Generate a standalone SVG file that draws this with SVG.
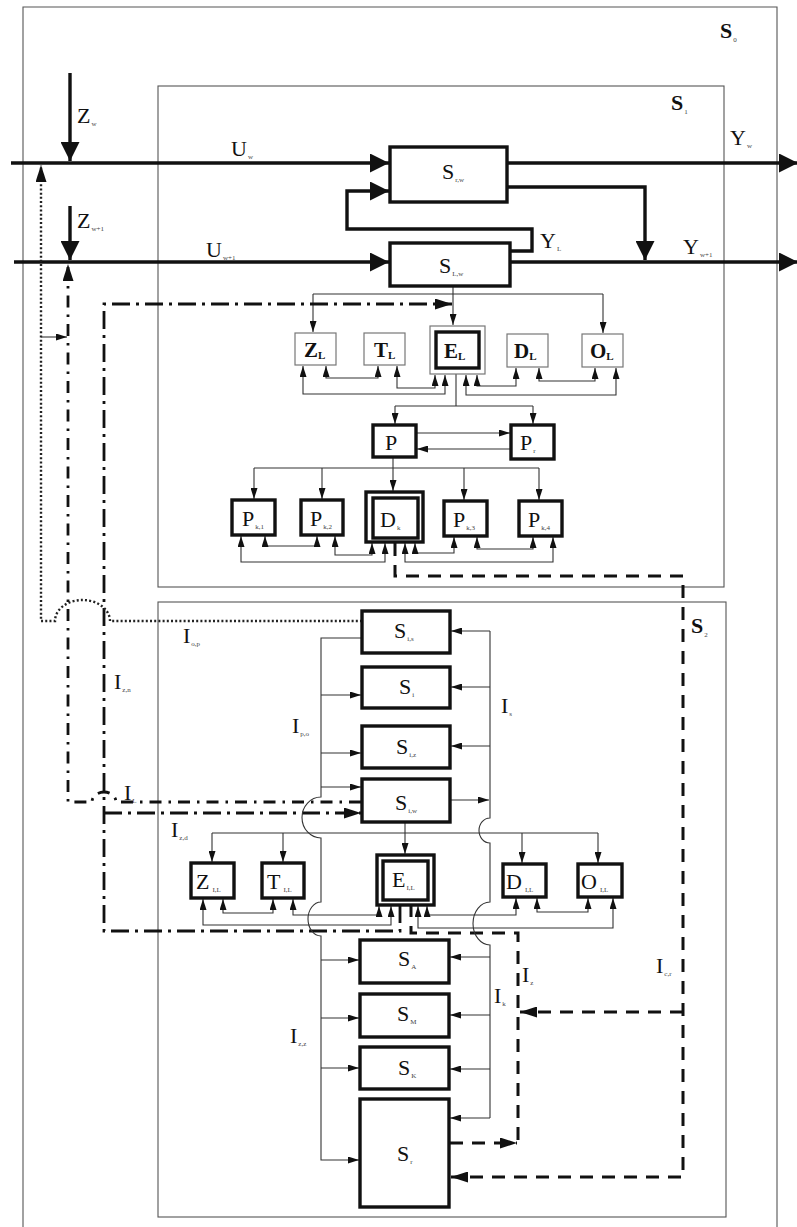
<svg xmlns="http://www.w3.org/2000/svg" width="797" height="1227" viewBox="0 0 797 1227">
<style>
.fr{fill:none;stroke:#555;stroke-width:1.1}
.tk{fill:none;stroke:#111;stroke-width:3.4}
.bx{fill:#fff;stroke:#111;stroke-width:3.4}
.bt{fill:#fff;stroke:#777;stroke-width:1.2}
.th{fill:none;stroke:#333;stroke-width:1.1}
.da{fill:none;stroke:#111;stroke-width:3;stroke-dasharray:13 9}
.dda{fill:none;stroke:#111;stroke-width:2.8;stroke-dasharray:18 6 3 6}
.ddb{fill:none;stroke:#111;stroke-width:2.8;stroke-dasharray:12 7 2.5 7}
.dt{fill:none;stroke:#222;stroke-width:2.4;stroke-dasharray:2 2.2}
text{font-family:"Liberation Serif","Times New Roman",serif;fill:#111}
.t{font-size:22px}
.tb{font-size:22px;font-weight:bold}
.tl{font-size:21px;font-weight:bold}
.s{font-size:7px;fill:#444;font-weight:normal}
.sl{font-size:11px;font-weight:bold}
</style>
<defs>
<marker id="ab" viewBox="0 0 19 19" refX="19" refY="9.5" markerWidth="19" markerHeight="19" markerUnits="userSpaceOnUse" orient="auto"><path d="M0,0L19,9.5L0,19z" fill="#111"/></marker>
<marker id="am" viewBox="0 0 17 11" refX="17" refY="5.5" markerWidth="17" markerHeight="11" markerUnits="userSpaceOnUse" orient="auto"><path d="M0,0L17,5.5L0,11z" fill="#111"/></marker>
<marker id="as" viewBox="0 0 11 7" refX="11" refY="3.5" markerWidth="11" markerHeight="7" markerUnits="userSpaceOnUse" orient="auto-start-reverse"><path d="M0,0L11,3.5L0,7z" fill="#111"/></marker>
</defs>

<g id="frames">
<path class="fr" d="M23,1227V7H777V1227"/>
<rect class="fr" x="158" y="86" width="566" height="501"/>
<rect class="fr" x="158" y="602" width="568" height="615"/>
<text class="tb" x="720" y="38">S<tspan class="s" dx="1" dy="4">0</tspan></text>
<text class="tb" x="671" y="110">S<tspan class="s" dx="1" dy="4">1</tspan></text>
<text class="tb" x="691" y="633">S<tspan class="s" dx="1" dy="4">2</tspan></text>
</g>

<g id="connectors">
<!-- main flows -->
<path class="tk" d="M11,163H389" marker-end="url(#ab)"/>
<path class="tk" d="M507,163H798" marker-end="url(#ab)"/>
<path class="tk" d="M14,262H389" marker-end="url(#ab)"/>
<path class="tk" d="M510,262H798" marker-end="url(#ab)"/>
<path class="tk" d="M70,73V161" marker-end="url(#ab)"/>
<path class="tk" d="M70,206V260" marker-end="url(#ab)"/>
<path class="tk" d="M507,187H645V260" marker-end="url(#ab)"/>
<path class="tk" d="M510,251H532V229H347V191H389" marker-end="url(#ab)"/>

<!-- S1 level 1 -->
<path class="th" d="M453,286V325" marker-end="url(#as)"/>
<path class="th" d="M313,294H603"/>
<path class="th" d="M313,294V332" marker-end="url(#as)"/>
<path class="th" d="M603,294V333" marker-end="url(#as)"/>
<path class="th" d="M326,366V378H378V366" marker-start="url(#as)" marker-end="url(#as)"/>
<path class="th" d="M397,366V388H435V375" marker-start="url(#as)" marker-end="url(#as)"/>
<path class="th" d="M303,366V394H445V375" marker-start="url(#as)" marker-end="url(#as)"/>
<path class="th" d="M466,375V395H616V368" marker-start="url(#as)" marker-end="url(#as)"/>
<path class="th" d="M477,375V386H516V368" marker-start="url(#as)" marker-end="url(#as)"/>
<path class="th" d="M539,368V381H595V368" marker-start="url(#as)" marker-end="url(#as)"/>

<!-- S1 level 2 -->
<path class="th" d="M456,374V406"/>
<path class="th" d="M395,406H533"/>
<path class="th" d="M395,406V424" marker-end="url(#as)"/>
<path class="th" d="M533,406V424" marker-end="url(#as)"/>
<path class="th" d="M416,433H510" marker-end="url(#as)"/>
<path class="th" d="M511,449H417" marker-end="url(#as)"/>

<!-- S1 level 3 -->
<path class="th" d="M393,457V491" marker-end="url(#as)"/>
<path class="th" d="M254,468H539"/>
<path class="th" d="M254,468V499" marker-end="url(#as)"/>
<path class="th" d="M322,468V499" marker-end="url(#as)"/>
<path class="th" d="M464,468V500" marker-end="url(#as)"/>
<path class="th" d="M539,468V500" marker-end="url(#as)"/>
<path class="th" d="M265,536V546H317V536" marker-start="url(#as)" marker-end="url(#as)"/>
<path class="th" d="M335,536V555H372V543" marker-start="url(#as)" marker-end="url(#as)"/>
<path class="th" d="M241,536V562H385V543" marker-start="url(#as)" marker-end="url(#as)"/>
<path class="th" d="M405,543V562H553V537" marker-start="url(#as)" marker-end="url(#as)"/>
<path class="th" d="M415,543V553H454V537" marker-start="url(#as)" marker-end="url(#as)"/>
<path class="th" d="M477,537V549H533V537" marker-start="url(#as)" marker-end="url(#as)"/>

<!-- dashed I_c,r -->
<path class="da" d="M395,543V576H683V1177H451" marker-end="url(#am)"/>
<path class="da" d="M683,1012H520" marker-end="url(#am)"/>
<path class="da" d="M450,1143H517" marker-end="url(#am)"/>
<path class="da" d="M518,1140V933H411V905"/>

<!-- dash-dot A -->
<path class="dda" d="M400,905V931H104V304H452" marker-end="url(#am)"/>
<path class="dda" d="M104,813H361" marker-end="url(#am)"/>
<!-- dash-dot B -->
<path class="ddb" d="M361,802H116A12,10 0 0 0 92,802H68V264" marker-end="url(#am)"/>
<!-- dotted -->
<path class="dt" d="M362,621H110A27.5,21 0 0 0 55,621H41V165" marker-end="url(#am)"/>
<path class="th" d="M41,337H67" marker-end="url(#as)"/>

<!-- S2 left bus -->
<path class="th" d="M362,638H321V797A19,20.5 0 0 0 321,838V902A13,17 0 0 0 321,936V1160H359" marker-end="url(#as)"/>
<path class="th" d="M321,695H361" marker-end="url(#as)"/>
<path class="th" d="M321,753H361" marker-end="url(#as)"/>
<path class="th" d="M321,787H361" marker-end="url(#as)"/>
<path class="th" d="M321,960H359" marker-end="url(#as)"/>
<path class="th" d="M321,1018H359" marker-end="url(#as)"/>
<path class="th" d="M321,1068H359" marker-end="url(#as)"/>
<!-- S2 right bus -->
<path class="th" d="M490,631V818A11,12.5 0 0 0 490,843V902A17,21.5 0 0 0 490,945V1118"/>
<path class="th" d="M490,631H451" marker-end="url(#as)"/>
<path class="th" d="M490,687H451" marker-end="url(#as)"/>
<path class="th" d="M490,746H451" marker-end="url(#as)"/>
<path class="th" d="M450,800H489" marker-end="url(#as)"/>
<path class="th" d="M490,957H450" marker-end="url(#as)"/>
<path class="th" d="M490,1015H450" marker-end="url(#as)"/>
<path class="th" d="M490,1069H450" marker-end="url(#as)"/>
<path class="th" d="M490,1118H450" marker-end="url(#as)"/>

<!-- S2 row -->
<path class="th" d="M405,822V854" marker-end="url(#as)"/>
<path class="th" d="M212,833H598"/>
<path class="th" d="M212,833V862" marker-end="url(#as)"/>
<path class="th" d="M283,833V862" marker-end="url(#as)"/>
<path class="th" d="M522,833V863" marker-end="url(#as)"/>
<path class="th" d="M598,833V863" marker-end="url(#as)"/>
<path class="th" d="M223,899V913H273V899" marker-start="url(#as)" marker-end="url(#as)"/>
<path class="th" d="M293,899V915H379V906" marker-start="url(#as)" marker-end="url(#as)"/>
<path class="th" d="M203,899V925H391V906" marker-start="url(#as)" marker-end="url(#as)"/>
<path class="th" d="M418,906V928H613V898" marker-start="url(#as)" marker-end="url(#as)"/>
<path class="th" d="M427,906V915H516V898" marker-start="url(#as)" marker-end="url(#as)"/>
<path class="th" d="M537,898V912H588V898" marker-start="url(#as)" marker-end="url(#as)"/>
</g>

<g id="labels">
<text class="t" x="77" y="123">Z<tspan class="s" dx="1" dy="3">w</tspan></text>
<text class="t" x="77" y="228">Z<tspan class="s" dx="1" dy="3">w+1</tspan></text>
<text class="t" x="231" y="156">U<tspan class="s" dx="1" dy="3">w</tspan></text>
<text class="t" x="206" y="257">U<tspan class="s" dx="1" dy="3">w+1</tspan></text>
<text class="t" x="730" y="145">Y<tspan class="s" dx="1" dy="3">w</tspan></text>
<text class="t" x="540" y="248">Y<tspan class="s" dx="1" dy="3">L</tspan></text>
<text class="t" x="683" y="254">Y<tspan class="s" dx="1" dy="3">w+1</tspan></text>
<text class="t" x="183" y="643">I<tspan class="s" dx="1" dy="3">o,p</tspan></text>
<text class="t" x="114" y="689">I<tspan class="s" dx="1" dy="3">z,n</tspan></text>
<text class="t" x="124" y="800">I<tspan class="s" dx="1" dy="3">L</tspan></text>
<text class="t" x="171" y="837">I<tspan class="s" dx="1" dy="3">z,d</tspan></text>
<text class="t" x="292" y="733">I<tspan class="s" dx="1" dy="3">p,o</tspan></text>
<text class="t" x="501" y="713">I<tspan class="s" dx="1" dy="3">s</tspan></text>
<text class="t" x="290" y="1043">I<tspan class="s" dx="1" dy="3">z,z</tspan></text>
<text class="t" x="494" y="1003">I<tspan class="s" dx="1" dy="3">k</tspan></text>
<text class="t" x="522" y="982">I<tspan class="s" dx="1" dy="3">z</tspan></text>
<text class="t" x="656" y="973">I<tspan class="s" dx="1" dy="3">c,r</tspan></text>
</g>

<g id="node-S-rw"><rect class="bx" x="390" y="147" width="117" height="55"/><text class="t" x="442" y="179">S<tspan class="s" dx="1" dy="3">r,w</tspan></text></g>
<g id="node-S-Lw"><rect class="bx" x="390" y="243" width="120" height="43"/><text class="t" x="439" y="273">S<tspan class="s" dx="1" dy="3">L,w</tspan></text></g>

<g id="node-ZL"><rect class="bt" x="295" y="333" width="41" height="32"/><text class="tl" x="304" y="357">Z<tspan class="sl" dx="0" dy="2">L</tspan></text></g>
<g id="node-TL"><rect class="bt" x="364" y="333" width="41" height="32"/><text class="tl" x="374" y="357">T<tspan class="sl" dx="0" dy="2">L</tspan></text></g>
<g id="node-EL"><rect class="bt" x="430" y="326" width="55" height="48"/><rect class="bx" x="436" y="332" width="43" height="36"/><text class="tl" x="444" y="358">E<tspan class="sl" dx="0" dy="2">L</tspan></text></g>
<g id="node-DL"><rect class="bt" x="507" y="334" width="41" height="33"/><text class="tl" x="514" y="358">D<tspan class="sl" dx="0" dy="2">L</tspan></text></g>
<g id="node-OL"><rect class="bt" x="582" y="334" width="41" height="33"/><text class="tl" x="590" y="358">O<tspan class="sl" dx="0" dy="2">L</tspan></text></g>

<g id="node-P"><rect class="bx" x="373" y="425" width="43" height="32"/><text class="t" x="385" y="450">P</text></g>
<g id="node-Pr"><rect class="bx" x="511" y="425" width="43" height="34"/><text class="t" x="520" y="450">P<tspan class="s" dx="1" dy="3">r</tspan></text></g>

<g id="node-Pa"><rect class="bx" x="232" y="500" width="43" height="35"/><text class="t" x="242" y="526">P<tspan class="s" dx="1" dy="3">k,1</tspan></text></g>
<g id="node-Pb"><rect class="bx" x="301" y="500" width="42" height="35"/><text class="t" x="310" y="526">P<tspan class="s" dx="1" dy="3">k,2</tspan></text></g>
<g id="node-D"><rect class="bx" x="366" y="492" width="57" height="50"/><rect class="bx" x="373" y="498" width="45" height="40"/><text class="t" x="380" y="527">D<tspan class="s" dx="1" dy="3">k</tspan></text></g>
<g id="node-Pc"><rect class="bx" x="444" y="501" width="43" height="35"/><text class="t" x="453" y="527">P<tspan class="s" dx="1" dy="3">k,3</tspan></text></g>
<g id="node-Pd"><rect class="bx" x="519" y="501" width="43" height="35"/><text class="t" x="528" y="527">P<tspan class="s" dx="1" dy="3">k,4</tspan></text></g>

<g id="node-S-is"><rect class="bx" x="362" y="611" width="88" height="42"/><text class="t" x="394" y="638">S<tspan class="s" dx="1" dy="3">i,s</tspan></text></g>
<g id="node-S-i"><rect class="bx" x="362" y="667" width="88" height="41"/><text class="t" x="399" y="694">S<tspan class="s" dx="1" dy="3">i</tspan></text></g>
<g id="node-S-iz"><rect class="bx" x="362" y="726" width="88" height="42"/><text class="t" x="396" y="754">S<tspan class="s" dx="1" dy="3">i,z</tspan></text></g>
<g id="node-S-iw"><rect class="bx" x="362" y="779" width="88" height="43"/><text class="t" x="395" y="810">S<tspan class="s" dx="1" dy="3">i,w</tspan></text></g>

<g id="node-Z2"><rect class="bx" x="191" y="863" width="43" height="35"/><text class="t" x="196" y="889">Z<tspan class="s" dx="3" dy="3">I,L</tspan></text></g>
<g id="node-T2"><rect class="bx" x="262" y="863" width="42" height="35"/><text class="t" x="267" y="889">T<tspan class="s" dx="3" dy="3">I,L</tspan></text></g>
<g id="node-E2"><rect class="bx" x="377" y="855" width="57" height="50"/><rect class="bx" x="383" y="861" width="45" height="39"/><text class="t" x="392" y="887">E<tspan class="s" dx="1" dy="3">I,L</tspan></text></g>
<g id="node-D2"><rect class="bx" x="503" y="864" width="43" height="33"/><text class="t" x="506" y="889">D<tspan class="s" dx="3" dy="3">I,L</tspan></text></g>
<g id="node-O2"><rect class="bx" x="578" y="864" width="44" height="33"/><text class="t" x="581" y="889">O<tspan class="s" dx="3" dy="3">I,L</tspan></text></g>

<g id="node-S-A"><rect class="bx" x="360" y="940" width="89" height="43"/><text class="t" x="398" y="966">S<tspan class="s" dx="1" dy="3">A</tspan></text></g>
<g id="node-S-M"><rect class="bx" x="360" y="994" width="89" height="43"/><text class="t" x="397" y="1021">S<tspan class="s" dx="1" dy="3">M</tspan></text></g>
<g id="node-S-K"><rect class="bx" x="360" y="1047" width="89" height="42"/><text class="t" x="398" y="1075">S<tspan class="s" dx="1" dy="3">K</tspan></text></g>
<g id="node-S-r"><rect class="bx" x="360" y="1099" width="89" height="108"/><text class="t" x="397" y="1161">S<tspan class="s" dx="1" dy="3">r</tspan></text></g>
</svg>
